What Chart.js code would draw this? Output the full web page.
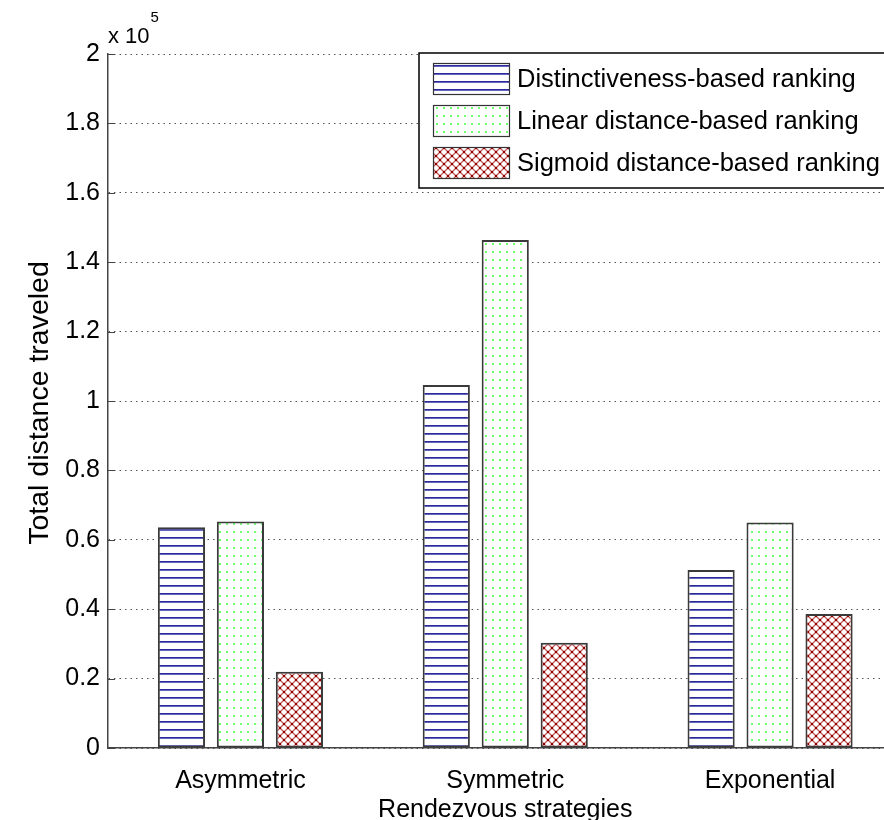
<!DOCTYPE html>
<html>
<head>
<meta charset="utf-8">
<script src="https://cdn.jsdelivr.net/npm/chart.js@4"></script>
<style>
  html, body { margin: 0; padding: 0; background: #fff; overflow: hidden; }
  #wrap { width: 884px; height: 820px; overflow: hidden; }
  canvas { display: block; }
</style>
</head>
<body>
<div id="wrap"><canvas id="distChart" width="904" height="820"></canvas></div>
<script>
const categories = ['Asymmetric', 'Symmetric', 'Exponential'];
const seriesNames = ['Distinctiveness-based ranking', 'Linear distance-based ranking', 'Sigmoid distance-based ranking'];
const distinctiveness = [63600, 104600, 51300];
const linearDistance = [65300, 146400, 65000];
const sigmoidDistance = [22000, 30300, 38600];
const yMax = 200000;
const yStep = 20000;
const xTitle = 'Rendezvous strategies';
const yTitle = 'Total distance traveled';

const FONT = '"Liberation Sans", Arial, sans-serif';

// hatch fills like the matlab bar patterns
function makeTile(size, draw) {
    const c = document.createElement('canvas');
    c.width = size[0];
    c.height = size[1];
    const g = c.getContext('2d');
    g.fillStyle = '#fff';
    g.fillRect(0, 0, c.width, c.height);
    draw(g);
    return document.createElement('canvas').getContext('2d').createPattern(c, 'repeat');
}

const bluePattern = makeTile([8, 8], g => {
    g.fillStyle = '#2a2a98';
    g.fillRect(0, 1, 8, 1);
    g.fillStyle = '#6464bc';
    g.fillRect(0, 2, 8, 1);
});

const greenPattern = makeTile([7, 8], g => {
    g.fillStyle = '#6cff6c';
    g.fillRect(2, 3, 2, 2);
});

const redPattern = makeTile([8, 8], g => {
    g.strokeStyle = '#c25a5a';
    g.lineWidth = 1.3;
    for (let k = -16; k <= 16; k += 8) {
        g.beginPath(); g.moveTo(k, 0); g.lineTo(k + 8, 8); g.stroke();
        g.beginPath(); g.moveTo(k + 8, 0); g.lineTo(k, 8); g.stroke();
    }
    g.fillStyle = '#8e0000';
    [[-1, -1], [7, -1], [-1, 7], [7, 7], [3, 3]].forEach(p => g.fillRect(p[0], p[1], 2, 2));
});

const patterns = [bluePattern, greenPattern, redPattern];

const decorations = {
    id: 'decorations',
    afterDraw(chart) {
        const ctx = chart.ctx;
        const area = chart.chartArea;
        const y = chart.scales.y;
        ctx.save();

        // inward tick marks on the y axis
        ctx.strokeStyle = '#444';
        ctx.lineWidth = 1;
        for (let v = 0; v <= yMax; v += yStep) {
            const py = Math.round(y.getPixelForValue(v)) + 0.5;
            ctx.beginPath();
            ctx.moveTo(area.left, py);
            ctx.lineTo(area.left + 7, py);
            ctx.stroke();
        }

        ctx.fillStyle = '#000';
        // exponent label
        ctx.textAlign = 'left';
        ctx.textBaseline = 'alphabetic';
        ctx.font = '22px ' + FONT;
        ctx.fillText('x 10', 108, 43);
        const w = ctx.measureText('x 10').width;
        ctx.font = '15px ' + FONT;
        ctx.fillText('5', 108 + w + 1, 22);

        // axis titles
        ctx.font = '25px ' + FONT;
        ctx.textAlign = 'center';
        ctx.fillText(xTitle, (area.left + area.right) / 2, 817);
        ctx.save();
        ctx.translate(48, 403);
        ctx.rotate(-Math.PI / 2);
        ctx.font = '28.5px ' + FONT;
        ctx.fillText(yTitle, 0, 0);
        ctx.restore();

        // legend box
        ctx.fillStyle = '#fff';
        ctx.fillRect(419, 53, 490, 135);
        ctx.strokeStyle = '#000';
        ctx.lineWidth = 1.5;
        ctx.strokeRect(419, 53, 490, 135);
        const rows = [63, 105, 147];
        ctx.font = '25.5px ' + FONT;
        ctx.textAlign = 'left';
        ctx.textBaseline = 'middle';
        rows.forEach((top, i) => {
            ctx.fillStyle = patterns[i];
            ctx.fillRect(433, top, 76, 31);
            ctx.strokeStyle = '#333';
            ctx.lineWidth = 1.2;
            ctx.strokeRect(433.5, top + 0.5, 76, 31);
            ctx.fillStyle = '#000';
            ctx.fillText(seriesNames[i], 517, top + 17);
        });
        ctx.restore();
    }
};

const canvas = document.getElementById('distChart');
new Chart(canvas.getContext('2d'), {
    type: 'bar',
    data: {
        labels: categories,
        datasets: [distinctiveness, linearDistance, sigmoidDistance].map((vals, i) => ({
            label: seriesNames[i],
            data: vals,
            backgroundColor: patterns[i],
            borderColor: '#3a3a3a',
            borderWidth: 2,
            borderSkipped: false,
            categoryPercentage: 0.668,
            barPercentage: 0.8
        }))
    },
    options: {
        responsive: false,
        animation: false,
        devicePixelRatio: 1,
        layout: { padding: { left: 0, top: 54, right: 1.5, bottom: 0 } },
        plugins: { legend: { display: false }, tooltip: { enabled: false } },
        scales: {
            x: {
                offset: true,
                grid: { display: false },
                border: { display: true, color: '#444', width: 1.5 },
                ticks: { color: '#000', font: { family: FONT, size: 25 }, padding: 10, maxRotation: 0 },
                afterFit: s => { s.height = 72; }
            },
            y: {
                min: 0,
                max: yMax,
                grid: { color: '#555', lineWidth: 1, drawTicks: false },
                border: { display: true, color: '#444', width: 1.5, dash: [1.5, 4] },
                ticks: {
                    stepSize: yStep,
                    color: '#000',
                    font: { family: FONT, size: 25 },
                    padding: 8,
                    callback: v => String(Number((v / 1e5).toFixed(1)))
                },
                afterFit: s => { s.width = 108; }
            }
        }
    },
    plugins: [decorations]
});
</script>
</body>
</html>
